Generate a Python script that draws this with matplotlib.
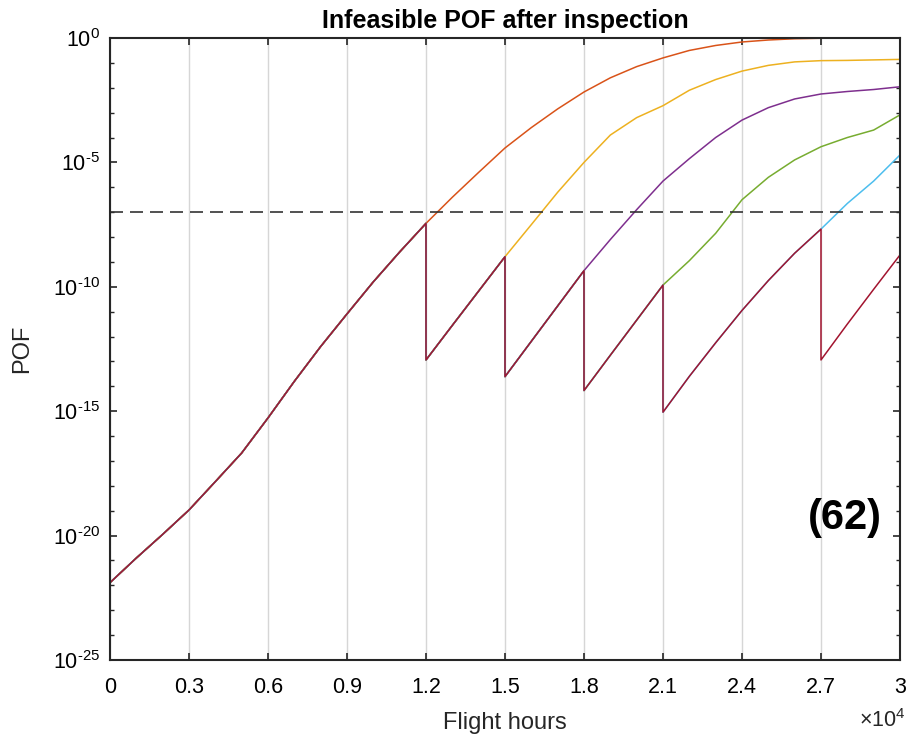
import numpy as np
import matplotlib
matplotlib.use("Agg")
import matplotlib.pyplot as plt
from matplotlib.ticker import FixedLocator, FuncFormatter, NullFormatter

plt.rcParams["font.family"] = ["Liberation Sans", "DejaVu Sans"]
plt.rcParams["mathtext.fontset"] = "custom"
plt.rcParams["mathtext.rm"] = "Liberation Sans"
plt.rcParams["mathtext.default"] = "regular"

# flight hours, sampled every 1000 h
hours = np.arange(0, 30001, 1000)

# log10(POF) without any inspection
log_pof_none = [-21.89, -20.9, -19.95, -18.97, -17.83, -16.68, -15.27, -13.8,
                -12.4, -11.09, -9.8, -8.6, -7.45, -6.4, -5.4, -4.42, -3.6,
                -2.85, -2.17, -1.6, -1.15, -0.8, -0.5, -0.3, -0.16, -0.08,
                -0.03, -0.01, 0.0, 0.0, 0.0]

# inspection times and log10(POF) right after each one, up to the next inspection
insp_times = [12000, 15000, 18000, 21000, 27000]
seg_12 = [-12.94, -11.55, -10.17, -8.79]                        # 12000..15000
seg_15 = [-13.61, -12.19, -10.77, -9.35]                        # 15000..18000
seg_18 = [-14.17, -12.75, -11.34, -9.93]                        # 18000..21000
seg_21 = [-15.04, -13.6, -12.25, -10.95, -9.75, -8.65, -7.68]   # 21000..27000
seg_27 = [-12.94, -11.5, -10.1, -8.72]                          # 27000..30000

# growth when the next inspection is skipped
tail_15 = [-8.79, -7.5, -6.2, -5.0, -3.9, -3.2, -2.72, -2.1, -1.67, -1.33,
           -1.1, -0.96, -0.91, -0.9, -0.88, -0.86]              # 15000..30000
tail_18 = [-9.35, -8.1, -6.9, -5.75, -4.85, -4.0, -3.3, -2.8, -2.45, -2.25,
           -2.15, -2.07, -1.96]                                 # 18000..30000
tail_21 = [-9.93, -8.95, -7.85, -6.5, -5.6, -4.9, -4.37, -4.0, -3.7, -3.09]  # 21000..30000
tail_27 = [-7.68, -6.65, -5.75, -4.7]                           # 27000..30000

threshold = 1e-7

segs = [seg_12, seg_15, seg_18, seg_21, seg_27]
tails = [tail_15, tail_18, tail_21, tail_27]
colors = ["#D95319", "#EDB120", "#7E2F8E", "#77AC30", "#4DBEEE", "#A2142F"]


def build_curve(n_insp):
    # no-inspection curve up to the first inspection, then n_insp inspections
    if n_insp == 0:
        return hours, 10.0 ** np.array(log_pof_none)
    t0 = insp_times[0]
    xs = list(hours[hours <= t0])
    ys = list(log_pof_none[:len(xs)])
    for k in range(n_insp):
        seg = segs[k]
        start = insp_times[k]
        xs += [start + 1000 * i for i in range(len(seg))]
        ys += seg
    if n_insp < len(insp_times):
        tail = tails[n_insp - 1]
        start = insp_times[n_insp]
        xs += [start + 1000 * i for i in range(1, len(tail))]
        ys += tail[1:]
    return np.array(xs), 10.0 ** np.array(ys)


fig = plt.figure(figsize=(9.1, 7.38), dpi=100)
ax = fig.add_axes([0.1209, 0.1057, 0.8681, 0.8428])

for n in range(6):
    x, y = build_curve(n)
    ax.plot(x, y, color=colors[n], lw=1.1)

ax.axhline(threshold, color="#333333", lw=1.2, dashes=(7.8, 4.2))

ax.set_yscale("log")
ax.set_xlim(0, 30000)
ax.set_ylim(1e-25, 1e0)

ax.xaxis.set_major_locator(FixedLocator(np.arange(0, 30001, 3000)))
ax.xaxis.set_major_formatter(FuncFormatter(lambda v, p: "%g" % (v / 1e4)))
ax.yaxis.set_major_locator(FixedLocator([10.0 ** e for e in range(-25, 1, 5)]))
ax.yaxis.set_minor_locator(FixedLocator([10.0 ** e for e in range(-25, 1)]))
ax.yaxis.set_major_formatter(
    FuncFormatter(lambda v, p: r"$10^{\text{%d}}$" % round(np.log10(v))))
ax.yaxis.set_minor_formatter(NullFormatter())

ax.grid(True, axis="x", color="#d6d6d6", lw=1.0)
ax.set_axisbelow(True)
ax.tick_params(which="both", direction="in", top=True, right=True,
               colors="#262626", labelcolor="black", labelsize=15.5)
ax.tick_params(which="major", length=5, width=1.2)
ax.tick_params(which="minor", length=3, width=1.0)
ax.tick_params(axis="x", pad=12)
ax.tick_params(axis="y", pad=7)
for s in ax.spines.values():
    s.set_color("#262626")
    s.set_linewidth(1.5)

ax.set_title("Infeasible POF after inspection", fontsize=18, fontweight="bold", pad=7)
ax.set_xlabel("Flight hours", fontsize=17, color="#262626", labelpad=10)
ax.set_ylabel("POF", fontsize=17, color="#262626", labelpad=14)
fig.text(0.995, 0.015, r"$\times10^{4}$", fontsize=15.5, color="#262626", ha="right")

ax.text(0.93, 0.228, "(62)", transform=ax.transAxes, fontsize=30,
        fontweight="bold", ha="center", va="center")

fig.savefig("out.png", dpi=100)
